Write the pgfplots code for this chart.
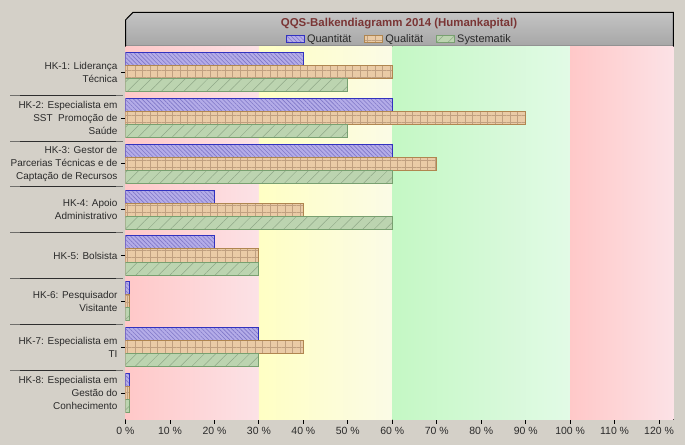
\documentclass[border=0pt]{standalone}
\usepackage{fontspec}
\setmainfont{Liberation Sans}
\usepackage{pgfplots}
\pgfplotsset{compat=1.18}
\usetikzlibrary{patterns.meta}
\definecolor{bg}{HTML}{D4D0C8}
\definecolor{titlec}{HTML}{7A3535}
\definecolor{labc}{HTML}{2A2A2A}
\definecolor{boxT}{HTML}{C4C4C4}
\definecolor{boxB}{HTML}{A6A6A6}
\definecolor{pinkL}{HTML}{FFC8C8}
\definecolor{pinkR}{HTML}{FCE2E6}
\definecolor{yelL}{HTML}{FFFFC4}
\definecolor{yelR}{HTML}{FBFBE6}
\definecolor{grnL}{HTML}{C4F8C4}
\definecolor{grnR}{HTML}{E2FAE6}
\definecolor{quanF}{HTML}{B4ACE8}
\definecolor{quanD}{HTML}{3232C0}
\definecolor{quanP}{HTML}{8078C8}
\definecolor{qualF}{HTML}{EACBA6}
\definecolor{qualD}{HTML}{B08650}
\definecolor{qualP}{HTML}{C0A080}
\definecolor{sysF}{HTML}{BCD4B0}
\definecolor{sysD}{HTML}{78A070}
\definecolor{sysP}{HTML}{90A888}
\definecolor{sepc}{HTML}{2E2E2E}
\begin{document}
\begin{tikzpicture}
\fill[bg] (0bp,0bp) rectangle (685bp,445bp);
\useasboundingbox (0bp,0bp) rectangle (685bp,445bp);
\draw[top color=boxT, bottom color=boxB, line width=1bp]
  (125.5bp,398.5bp) -- (125.5bp,425bp) -- (133bp,432.7bp) -- (673.3bp,432.7bp) -- (673.3bp,398.5bp) -- cycle;
\node[font=\fontsize{11.5}{13}\selectfont\bfseries, text=titlec] at (399bp,421.5bp) {QQS-Balkendiagramm 2014 (Humankapital)};
\foreach \yy in {349.6,303.8,258.0,212.2,166.4,120.6,74.8}{
  \draw[sepc!60!bg, line width=1bp] (10bp,\yy bp) -- (20bp,\yy bp);
  \draw[sepc, line width=1bp] (20bp,\yy bp) -- (116bp,\yy bp);
  \draw[sepc!60!bg, line width=1bp] (116bp,\yy bp) -- (123bp,\yy bp);
}
\begin{axis}[
  xbar,
  at={(125.5bp,25.7bp)}, anchor=south west,
  scale only axis, width=547.8bp, height=372.3bp,
  xmin=0, xmax=123.2, ymin=-0.576, ymax=7.552,
  axis line style={line width=1bp, black},
  ytick pos=left, xtick pos=bottom,
  tick align=outside,
  major tick length=4.5bp,
  tick style={black, line width=0.8bp},
  xtick={0,10,...,120},
  xticklabels={0 \%,10 \%,20 \%,30 \%,40 \%,50 \%,60 \%,70 \%,80 \%,90 \%,100 \%,110 \%,120 \%},
  xticklabel style={font=\fontsize{10.5}{12}\selectfont, text=labc},
  ytick={0,...,7},
  yticklabels={{HK-8: Especialista em\\Gestão do\\Conhecimento},{HK-7: Especialista em\\TI},{HK-6: Pesquisador\\Visitante},{HK-5: Bolsista},{HK-4: Apoio\\Administrativo},{HK-3: Gestor de\\Parcerias Técnicas e de\\Captação de Recursos},{HK-2: Especialista em\\SST\ \ Promoção de\\Saúde},{HK-1: Liderança\\Técnica}},
  yticklabel style={align=right, font=\fontsize{10}{13}\selectfont, text=labc},
  bar width=0.285,
  legend style={at={(0.5,1)}, anchor=south, yshift=0bp, draw=none, fill=none,
    legend columns=-1, font=\fontsize{11}{12}\selectfont, text=labc,
    /tikz/every even column/.append style={column sep=11bp},
    inner sep=1bp},
  legend image code/.code={\draw[#1] (0bp,-3.5bp) rectangle (18bp,3.5bp);},
]
\shade[left color=pinkL, right color=pinkR] (axis cs:0,-0.576) rectangle (axis cs:30,7.552);
\shade[left color=yelL, right color=yelR] (axis cs:30,-0.576) rectangle (axis cs:60,7.552);
\shade[left color=grnL, right color=grnR] (axis cs:60,-0.576) rectangle (axis cs:100,7.552);
\shade[left color=pinkL, right color=pinkR] (axis cs:100,-0.576) rectangle (axis cs:123.2,7.552);
\addplot[bar shift=0.285, fill=quanF, draw=quanD, line width=1bp,
  postaction={pattern={Lines[angle=-45,distance=3bp,line width=0.6bp]}, pattern color=quanP}]
  coordinates {(40,7) (60,6) (60,5) (20,4) (20,3) (1,2) (30,1) (1,0)};
\addplot[bar shift=0, fill=qualF, draw=qualD, line width=1bp,
  postaction={pattern={Hatch[angle=0,distance=7.5bp,line width=0.5bp]}, pattern color=qualP}]
  coordinates {(60,7) (90,6) (70,5) (40,4) (30,3) (1,2) (40,1) (1,0)};
\addplot[bar shift=-0.285, fill=sysF, draw=sysD, line width=1bp,
  postaction={pattern={Lines[angle=45,distance=8bp,line width=0.5bp]}, pattern color=sysP}]
  coordinates {(50,7) (50,6) (60,5) (60,4) (30,3) (1,2) (30,1) (1,0)};
\legend{Quantität,Qualität,Systematik}
\end{axis}
\end{tikzpicture}
\end{document}
